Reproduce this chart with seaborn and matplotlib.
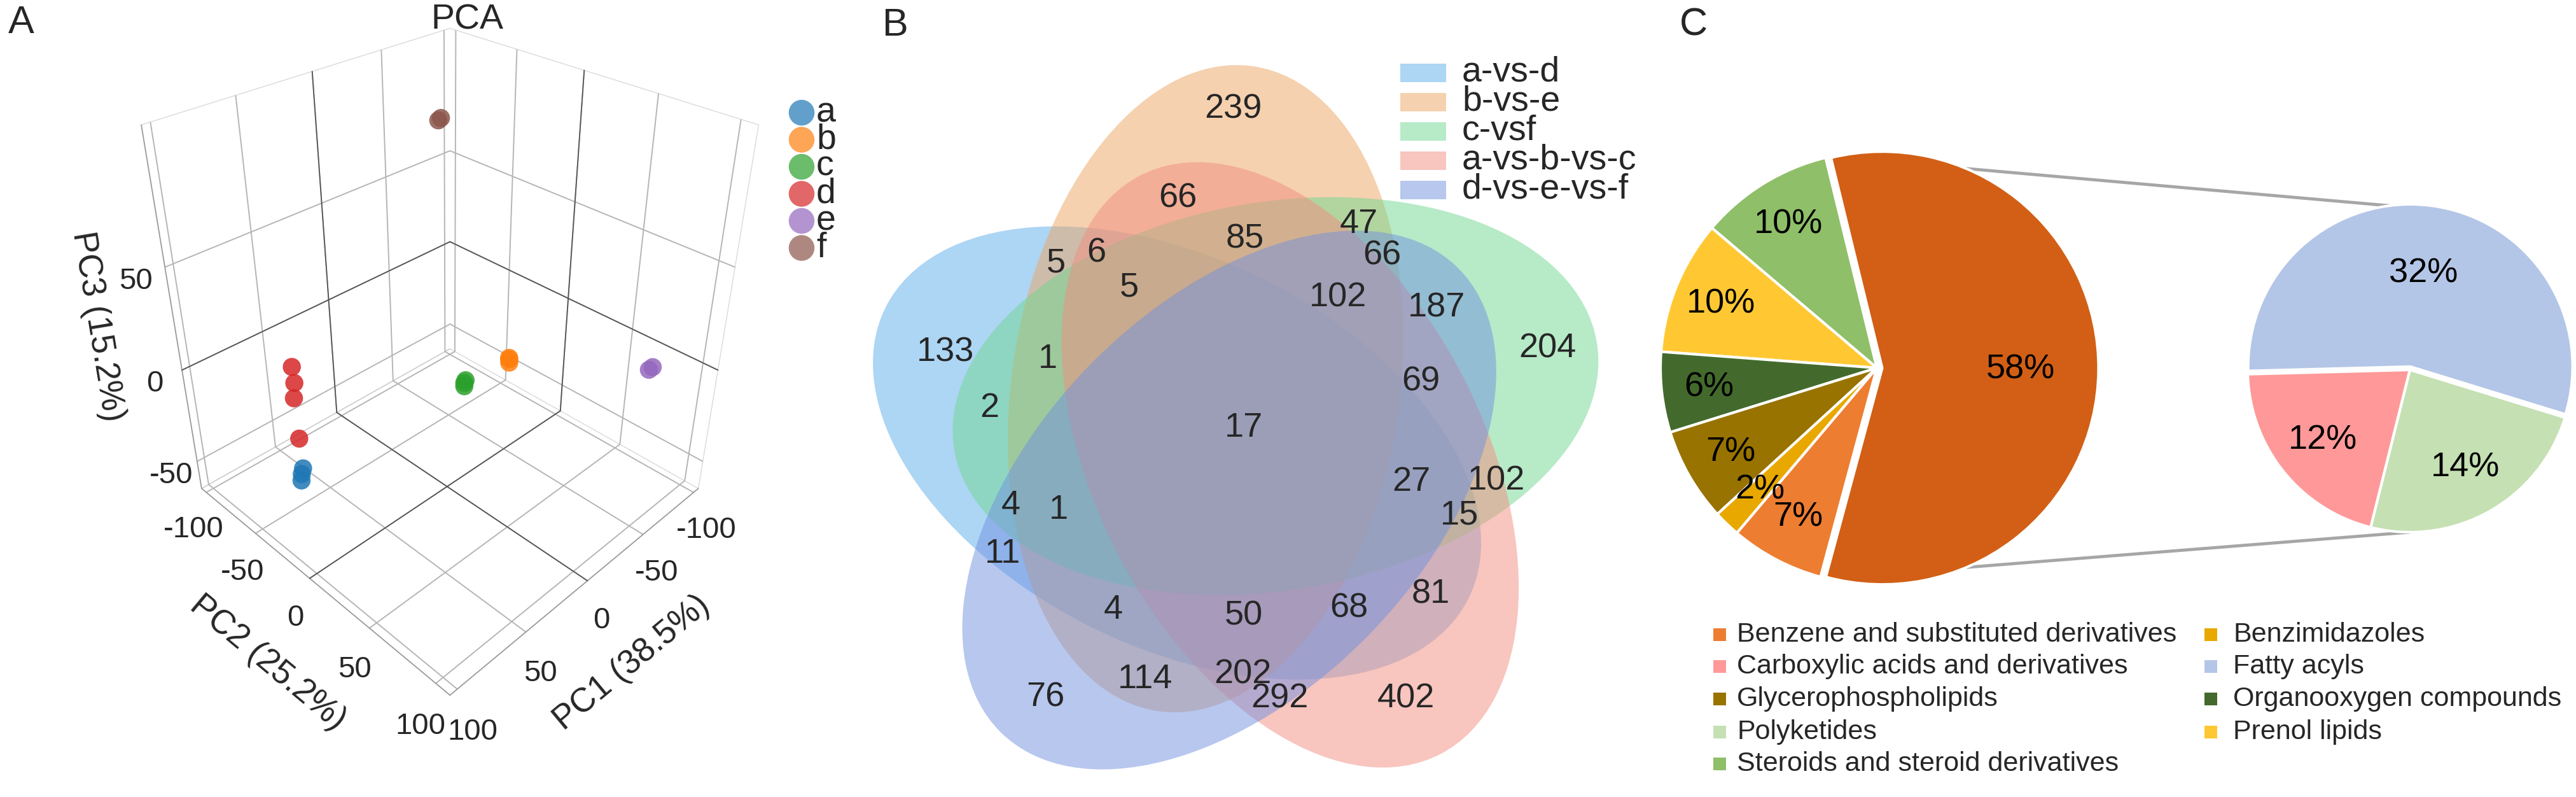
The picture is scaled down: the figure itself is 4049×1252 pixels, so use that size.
import matplotlib
matplotlib.use("Agg")
import matplotlib.pyplot as plt
import seaborn as sns
import numpy as np
import pandas as pd
from matplotlib.patches import Ellipse, Rectangle

sns.set_theme(style="white")
plt.rcParams["font.family"] = ["Liberation Sans", "DejaVu Sans"]
plt.rcParams["grid.color"] = "#b5b5b5"
plt.rcParams["grid.linewidth"] = 1.4
plt.rcParams["axes.unicode_minus"] = False

W, H = 4049, 1252

# ---------------- painel A: PCA ----------------
grupos = ["a"] * 3 + ["b"] * 3 + ["c"] * 3 + ["d"] * 4 + ["e"] * 2 + ["f"] * 2
pc1 = [58, 60, 56, -31, -30, -32, -10, -9, -11, 59, 57, 61, 56, -85, -83, -28, -27]
pc2 = [-67, -65, -68, 19, 20, 18, 4, 5, 4, -65, -67, -63, -69, 80, 79, -33, -34]
pc3 = [-62, -64, -60, 0, -1, 0, -10, -11, -9, -1, -11, -16, -43, -2, -3, 99, 98]
pca_ticks = [-100, -50, 0, 50, 100]
pc3_ticks = [-50, 0, 50]
lim_pc1, lim_pc2, lim_pc3 = (-105, 105), (-105, 110), (-66, 110)

# ---------------- painel B: Venn ----------------
venn_sets = ["a-vs-d", "b-vs-e", "c-vsf", "a-vs-b-vs-c", "d-vs-e-vs-f"]
venn_colors = ["#5dadeb", "#eda561", "#71d791", "#f38d81", "#7191df"]
venn_counts = [239, 66, 5, 6, 5, 85, 133, 1, 2, 17, 47, 66, 102, 187, 204, 69,
               4, 1, 11, 4, 76, 114, 50, 202, 27, 102, 15, 81, 68, 292, 402]
venn_pos = [(1938, 172), (1851, 312), (1660, 413), (1723, 398), (1775, 451),
            (1957, 375), (1486, 553), (1647, 564), (1555, 641), (1955, 672),
            (2136, 352), (2172, 401), (2103, 467), (2258, 484), (2432, 547),
            (2233, 599), (1589, 794), (1664, 801), (1576, 870), (1750, 958),
            (1643, 1096), (1800, 1067), (1955, 968), (1953, 1060), (2218, 757),
            (2352, 755), (2294, 809), (2249, 933), (2120, 956), (2011, 1098),
            (2210, 1098)]

# ---------------- painel C: pizza ----------------
pie_main_labels = ["Steroids and steroid derivatives", "Prenol lipids",
                   "Organooxygen compounds", "Glycerophospholipids",
                   "Benzimidazoles", "Benzene and substituted derivatives", "Other"]
pie_main_values = [10, 10, 6, 7, 2, 7, 58]
pie_sub_labels = ["Fatty acyls", "Carboxylic acids and derivatives", "Polyketides"]
pie_sub_values = [32, 12, 14]
legend_order = ["Benzene and substituted derivatives", "Carboxylic acids and derivatives",
                "Glycerophospholipids", "Polyketides", "Steroids and steroid derivatives",
                "Benzimidazoles", "Fatty acyls", "Organooxygen compounds", "Prenol lipids"]
cat_colors = {
    "Other": "#d25f15",
    "Steroids and steroid derivatives": "#8fbf68",
    "Prenol lipids": "#ffc833",
    "Organooxygen compounds": "#436a2c",
    "Glycerophospholipids": "#987300",
    "Benzimidazoles": "#e8a800",
    "Benzene and substituted derivatives": "#ed7d31",
    "Fatty acyls": "#b4c6e7",
    "Carboxylic acids and derivatives": "#ff9999",
    "Polyketides": "#c5e0b3",
}

fig = plt.figure(figsize=(W / 100, H / 100), dpi=100)

# ---- A: scatter 3D ----
df = pd.DataFrame({"grupo": grupos, "PC1": pc1, "PC2": pc2, "PC3": pc3})
paleta = dict(zip(sorted(df["grupo"].unique()), sns.color_palette("tab10", 6)))

ax3 = fig.add_axes([0.0155, 0.077, 0.31, 1.0], projection="3d")
ax3.set_proj_type("persp", focal_length=0.25)

# linhas do zero (mais escuras) nas paredes e no chão
x0, x1 = lim_pc1
y0, y1 = lim_pc2
z0, z1 = lim_pc3
zero_kw = dict(color="#555555", lw=1.3)
ax3.plot([x0, x0], [y0, y1], [0, 0], **zero_kw)
ax3.plot([x0, x1], [y0, y0], [0, 0], **zero_kw)
ax3.plot([x0, x0], [0, 0], [z0, z1], **zero_kw)
ax3.plot([0, 0], [y0, y0], [z0, z1], **zero_kw)
ax3.plot([x0, x1], [0, 0], [z0, z0], **zero_kw)
ax3.plot([0, 0], [y0, y1], [z0, z0], **zero_kw)

for g, sub in df.groupby("grupo"):
    ax3.scatter(sub["PC1"], sub["PC2"], sub["PC3"], s=420, color=paleta[g],
                alpha=0.85, edgecolors="none", depthshade=False)
ax3.set_xlim(*lim_pc1)
ax3.set_ylim(*lim_pc2)
ax3.set_zlim(*lim_pc3)
ax3.set_xticks(pca_ticks)
ax3.set_yticks(pca_ticks)
ax3.set_zticks(pc3_ticks)
ax3.set_box_aspect((1, 1, 1.1), zoom=0.85)
ax3.view_init(elev=33, azim=45)
for axis in (ax3.xaxis, ax3.yaxis, ax3.zaxis):
    axis.pane.fill = False
    axis.pane.set_edgecolor("#b5b5b5")
    axis.line.set_color("#9a9a9a")
    axis._axinfo["tick"]["inward_factor"] = 0
    axis._axinfo["tick"]["outward_factor"] = 0
ax3.tick_params(labelsize=34, pad=16)
ax3.set_xlabel("PC1 (38.5%)", fontsize=38, labelpad=55)
ax3.set_ylabel("PC2 (25.2%)", fontsize=38, labelpad=55)
ax3.set_zlabel("PC3 (15.2%)", fontsize=38, labelpad=45)

# eixo em pixels para o resto (Venn, textos, legendas)
axp = fig.add_axes([0, 0, 1, 1])
axp.set_xlim(0, W)
axp.set_ylim(0, H)
axp.axis("off")
axp.patch.set_alpha(0)


def py(y):
    return H - y


# legenda PCA
for i, g in enumerate(paleta):
    axp.scatter(1260, py(177 + 42.5 * i), s=850, color=paleta[g], alpha=0.7,
                edgecolors="none")
    axp.text(1283, py(177 + 42.5 * i), g, fontsize=40, va="center", ha="left")
axp.text(734, py(32), "PCA", fontsize=40, ha="center", va="center")

# ---- B: Venn com 5 elipses ----
centro = np.array([1942, py(692)])
for k, (nome, cor) in enumerate(zip(venn_sets, venn_colors)):
    passo = [1, 0, 4, 3, 2][k] * 72
    ang_eixo = 81.5 + passo
    ang_desl = np.deg2rad(120 + passo)
    c = centro + 94 * np.array([np.cos(ang_desl), np.sin(ang_desl)])
    axp.add_patch(Ellipse(c, 2 * 512, 2 * 305, angle=ang_eixo, facecolor=cor,
                          alpha=0.5, edgecolor="none"))
for n, (x, y) in zip(venn_counts, venn_pos):
    axp.text(x, py(y), str(n), fontsize=39, color="#262626", ha="center", va="center")

for i, (nome, cor) in enumerate(zip(venn_sets, venn_colors)):
    yc = 114 + 46 * i
    axp.add_patch(Rectangle((2201, py(yc) - 14.5), 72, 29, facecolor=cor, alpha=0.5,
                            edgecolor="none"))
    axp.text(2298, py(yc), nome, fontsize=40, color="#262626", va="center", ha="left")

# ---- C: pizza com sub-pizza ----
r_main, cx_main, cy_main = 340, 2950, 578
r_sub, cx_sub, cy_sub = 255, 3788, 581

ax_pm = fig.add_axes([(cx_main - r_main) / W, (H - cy_main - r_main) / H,
                      2 * r_main / W, 2 * r_main / H])
wedges, _ = ax_pm.pie(pie_main_values, startangle=103.7, counterclock=True,
                      colors=[cat_colors[c] for c in pie_main_labels],
                      explode=[0, 0, 0, 0, 0, 0, 0.025],
                      wedgeprops=dict(edgecolor="white", linewidth=3))
for w, v, lab in zip(wedges, pie_main_values, pie_main_labels):
    ang = np.deg2rad((w.theta1 + w.theta2) / 2)
    d = 0.64 if lab == "Other" else 0.78
    ax_pm.text(w.center[0] + d * np.cos(ang), w.center[1] + d * np.sin(ang), f"{v}%",
               fontsize=39, ha="center", va="center", color="black")
ax_pm.set_xlim(-1, 1)
ax_pm.set_ylim(-1, 1)

ax_ps = fig.add_axes([(cx_sub - r_sub) / W, (H - cy_sub - r_sub) / H,
                      2 * r_sub / W, 2 * r_sub / H])
wedges2, _ = ax_ps.pie(pie_sub_values, startangle=-17.1, counterclock=True,
                       colors=[cat_colors[c] for c in pie_sub_labels],
                       explode=[0.02, 0, 0],
                       wedgeprops=dict(edgecolor="white", linewidth=3))
for w, v in zip(wedges2, pie_sub_values):
    ang = np.deg2rad((w.theta1 + w.theta2) / 2)
    d = 0.6 if v == max(pie_sub_values) else 0.69
    ax_ps.text(d * np.cos(ang), d * np.sin(ang), f"{v}%", fontsize=39,
               ha="center", va="center", color="black")
ax_ps.set_xlim(-1, 1)
ax_ps.set_ylim(-1, 1)

# linhas de ligação
a_lig = np.deg2rad(67.5)
for s in (1, -1):
    xa = cx_main + r_main * np.cos(a_lig)
    ya = cy_main - s * r_main * np.sin(a_lig)
    axp.plot([xa, cx_sub], [py(ya), py(cy_sub - s * r_sub)], color="#a6a6a6",
             lw=3.5, solid_capstyle="butt")

# legenda C
for i, nome in enumerate(legend_order):
    col, row = divmod(i, 5)
    xm = [2693, 3465][col]
    yc = [997, 1047, 1098, 1150, 1200][row]
    axp.add_patch(Rectangle((xm, py(yc) - 10), 20, 20, facecolor=cat_colors[nome],
                            edgecolor="none"))
    axp.text(xm + 37 + 8 * col, py(yc), nome, fontsize=31, va="center", ha="left")

# letras dos painéis
for letra, x, y in [("A", 33, 36), ("B", 1407, 40), ("C", 2662, 40)]:
    axp.text(x, py(y), letra, fontsize=44, ha="center", va="center")

fig.savefig("out.png", dpi=100)
